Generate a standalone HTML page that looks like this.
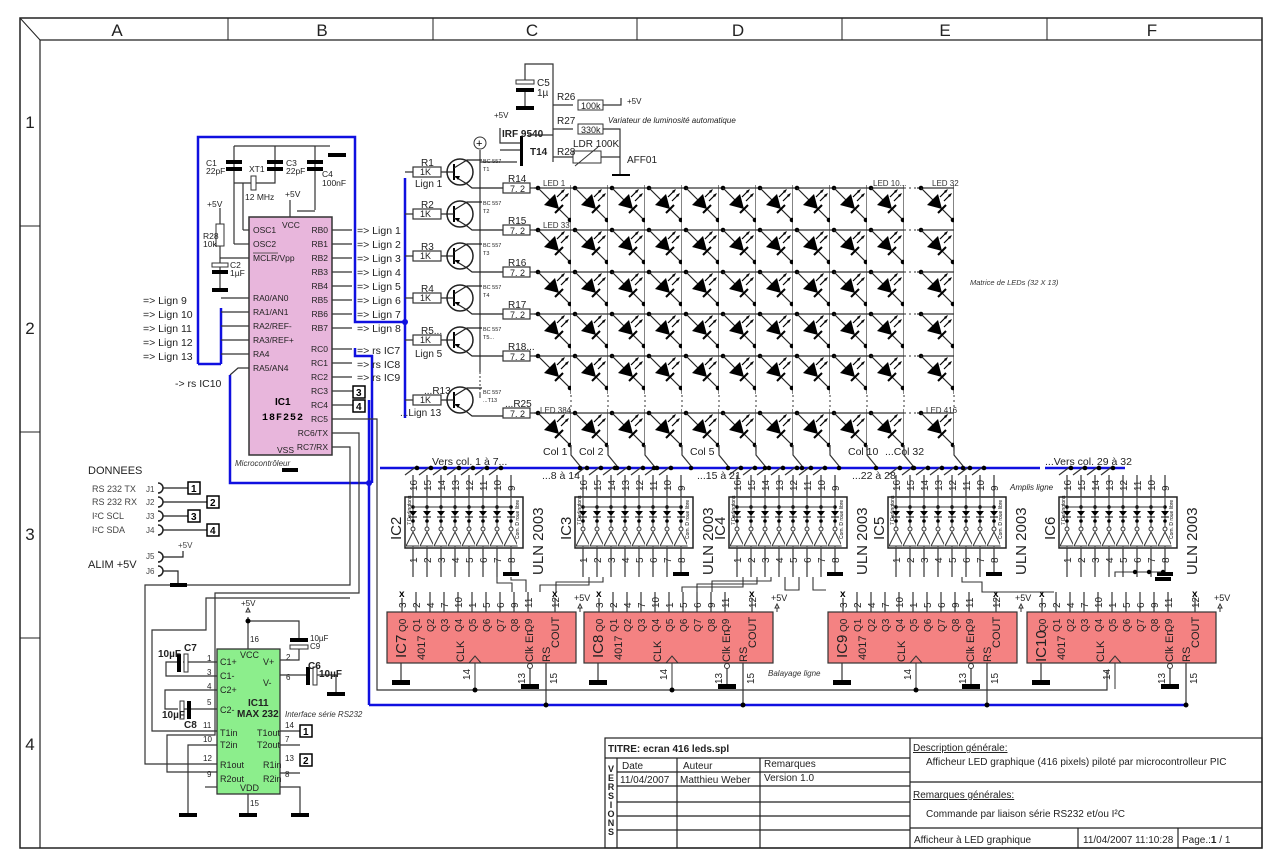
<!DOCTYPE html>
<html><head><meta charset="utf-8"><style>
html,body{margin:0;padding:0;background:#fff;}
svg{display:block;font-family:"Liberation Sans",sans-serif;}
</style></head><body>
<svg width="1280" height="866" viewBox="0 0 1280 866" xmlns="http://www.w3.org/2000/svg">
<defs>
<pattern id="ledA" x="534" y="184" width="37" height="42" patternUnits="userSpaceOnUse">
 <line x1="0" y1="4" x2="37" y2="4" stroke="#333" stroke-width="1.2"/>
 <circle cx="4" cy="4" r="2.3" fill="#000"/>
 <line x1="4" y1="4" x2="37" y2="37" stroke="#222" stroke-width="1.2"/>
 <line x1="37" y1="0" x2="37" y2="42" stroke="#333" stroke-width="1.2"/>
 <circle cx="36" cy="36" r="2.3" fill="#000"/>
 <polygon points="10,21 21,10 25,25" fill="#000"/>
 <line x1="21" y1="29" x2="29" y2="21" stroke="#000" stroke-width="2"/>
 <line x1="23" y1="13" x2="30" y2="6" stroke="#000" stroke-width="1.2"/>
 <line x1="27" y1="17" x2="34" y2="10" stroke="#000" stroke-width="1.2"/>
 <polygon points="31,5 27,7 29,9" fill="#000"/><polygon points="35,9 31,11 33,13" fill="#000"/>
</pattern>
<pattern id="ledB" x="534" y="409" width="37" height="42" patternUnits="userSpaceOnUse">
 <line x1="0" y1="4" x2="37" y2="4" stroke="#333" stroke-width="1.2"/>
 <circle cx="4" cy="4" r="2.3" fill="#000"/>
 <line x1="4" y1="4" x2="37" y2="37" stroke="#222" stroke-width="1.2"/>
 <line x1="37" y1="0" x2="37" y2="42" stroke="#333" stroke-width="1.2"/>
 <circle cx="36" cy="36" r="2.3" fill="#000"/>
 <polygon points="10,21 21,10 25,25" fill="#000"/>
 <line x1="21" y1="29" x2="29" y2="21" stroke="#000" stroke-width="2"/>
 <line x1="23" y1="13" x2="30" y2="6" stroke="#000" stroke-width="1.2"/>
 <line x1="27" y1="17" x2="34" y2="10" stroke="#000" stroke-width="1.2"/>
 <polygon points="31,5 27,7 29,9" fill="#000"/><polygon points="35,9 31,11 33,13" fill="#000"/>
</pattern>
<pattern id="ulnp" x="0" y="0" width="14" height="52" patternUnits="userSpaceOnUse">
 <line x1="8" y1="0" x2="8" y2="52" stroke="#333" stroke-width="1"/>
 <circle cx="8" cy="10" r="1.8" fill="#000"/>
 <polygon points="4,14 12,14 8,19" fill="#000"/><line x1="4" y1="20" x2="12" y2="20" stroke="#000"/>
 <circle cx="8" cy="24" r="1.8" fill="#000"/>
 <circle cx="8" cy="32" r="2" fill="#fff" stroke="#333"/>
 <polygon points="1,49 15,49 8,35" fill="#fff" stroke="#333"/>
</pattern>
<g id="uln">
 <rect x="0" y="0" width="118" height="51" fill="#fff" stroke="#222" stroke-width="1.5"/>
 <rect x="1" y="1" width="112" height="49" fill="url(#ulnp)"/>
 <line x1="8" y1="10" x2="106" y2="10" stroke="#333"/>
 <g stroke="#333" stroke-width="1.2">
  <line x1="8" y1="-22" x2="8" y2="0"/><line x1="22" y1="-22" x2="22" y2="0"/><line x1="36" y1="-22" x2="36" y2="0"/><line x1="50" y1="-22" x2="50" y2="0"/><line x1="64" y1="-22" x2="64" y2="0"/><line x1="78" y1="-22" x2="78" y2="0"/><line x1="92" y1="-22" x2="92" y2="0"/><line x1="106" y1="-22" x2="106" y2="0"/>
  <line x1="8" y1="51" x2="8" y2="80"/><line x1="22" y1="51" x2="22" y2="80"/><line x1="36" y1="51" x2="36" y2="80"/><line x1="50" y1="51" x2="50" y2="80"/><line x1="64" y1="51" x2="64" y2="80"/><line x1="78" y1="51" x2="78" y2="80"/><line x1="92" y1="51" x2="92" y2="80"/><line x1="106" y1="51" x2="106" y2="78"/>
 </g>
 <rect x="98" y="75" width="16" height="4" fill="#000"/>
 <g font-size="10" fill="#222">
  <text transform="translate(12,-6) rotate(-90)">16</text><text transform="translate(26,-6) rotate(-90)">15</text><text transform="translate(40,-6) rotate(-90)">14</text><text transform="translate(54,-6) rotate(-90)">13</text><text transform="translate(68,-6) rotate(-90)">12</text><text transform="translate(82,-6) rotate(-90)">11</text><text transform="translate(96,-6) rotate(-90)">10</text><text transform="translate(110,-6) rotate(-90)">9</text>
  <text transform="translate(12,66) rotate(-90)">1</text><text transform="translate(26,66) rotate(-90)">2</text><text transform="translate(40,66) rotate(-90)">3</text><text transform="translate(54,66) rotate(-90)">4</text><text transform="translate(68,66) rotate(-90)">5</text><text transform="translate(82,66) rotate(-90)">6</text><text transform="translate(96,66) rotate(-90)">7</text><text transform="translate(110,66) rotate(-90)">8</text>
 </g>
 <text transform="translate(6,28) rotate(-90)" font-size="5">7 Darlingtons</text>
 <text transform="translate(114,42) rotate(-90)" font-size="5">Com. D roue libre</text>
 <text transform="translate(138,78) rotate(-90)" font-size="15" fill="#222">ULN 2003</text>
</g>
<g id="c4017">
 <rect x="0" y="0" width="189" height="51" fill="#f48282" stroke="#333" stroke-width="1.2"/>
 <g stroke="#333" stroke-width="1.2">
  <line x1="15" y1="-14" x2="15" y2="0"/><line x1="29" y1="-20" x2="29" y2="0"/><line x1="43" y1="-20" x2="43" y2="0"/><line x1="57" y1="-20" x2="57" y2="0"/><line x1="71" y1="-20" x2="71" y2="0"/><line x1="85" y1="-20" x2="85" y2="0"/><line x1="99" y1="-20" x2="99" y2="0"/><line x1="113" y1="-20" x2="113" y2="0"/><line x1="127" y1="-20" x2="127" y2="0"/><line x1="141" y1="-20" x2="141" y2="0"/><line x1="168" y1="-14" x2="168" y2="0"/>
  <line x1="14" y1="51" x2="14" y2="70"/><line x1="143" y1="55" x2="143" y2="72"/><line x1="159" y1="51" x2="159" y2="92"/>
 </g>
 <rect x="5" y="68" width="18" height="5" fill="#000"/><rect x="134" y="72" width="18" height="5" fill="#000"/>
 <circle cx="143" cy="54" r="2.5" fill="#fff" stroke="#333"/>
 <polyline points="82,51 88,44 94,51" fill="none" stroke="#333"/>
 <line x1="88" y1="51" x2="88" y2="77" stroke="#333"/>
 <path d="M195,-4 l-2,-4 l-2,4 z" fill="none" stroke="#333"/><line x1="193" y1="-4" x2="193" y2="0" stroke="#333"/>
 <text x="187" y="-11" font-size="9" fill="#222">+5V</text>
 <g font-size="10" fill="#222">
  <text transform="translate(19,20) rotate(-90)">Q0</text><text transform="translate(33,20) rotate(-90)">Q1</text><text transform="translate(47,20) rotate(-90)">Q2</text><text transform="translate(61,20) rotate(-90)">Q3</text><text transform="translate(75,20) rotate(-90)">Q4</text><text transform="translate(89,20) rotate(-90)">Q5</text><text transform="translate(103,20) rotate(-90)">Q6</text><text transform="translate(117,20) rotate(-90)">Q7</text><text transform="translate(131,20) rotate(-90)">Q8</text><text transform="translate(145,20) rotate(-90)">Q9</text>
  <text transform="translate(172,36) rotate(-90)" font-size="11">COUT</text>
  <text transform="translate(38,48) rotate(-90)" font-size="11">4017</text>
  <text transform="translate(77,50) rotate(-90)" font-size="11">CLK</text>
  <text transform="translate(146,50) rotate(-90)" font-size="11">Clk En</text>
  <text transform="translate(163,50) rotate(-90)" font-size="11">RS</text>
  <text transform="translate(19,-4) rotate(-90)">3</text><text transform="translate(33,-4) rotate(-90)">2</text><text transform="translate(47,-4) rotate(-90)">4</text><text transform="translate(61,-4) rotate(-90)">7</text><text transform="translate(75,-4) rotate(-90)">10</text><text transform="translate(89,-4) rotate(-90)">1</text><text transform="translate(103,-4) rotate(-90)">5</text><text transform="translate(117,-4) rotate(-90)">6</text><text transform="translate(131,-4) rotate(-90)">9</text><text transform="translate(145,-4) rotate(-90)">11</text><text transform="translate(172,-4) rotate(-90)">12</text>
  <text transform="translate(83,68) rotate(-90)">14</text><text transform="translate(138,72) rotate(-90)">13</text><text transform="translate(170,72) rotate(-90)">15</text>
 </g>
 <text x="12" y="-15" font-size="10" font-weight="bold">x</text><text x="165" y="-15" font-size="10" font-weight="bold">x</text>
</g>
<g id="trans">
 <circle cx="0" cy="0" r="13" fill="#fff" stroke="#222" stroke-width="1.5"/>
 <line x1="-6" y1="-8" x2="-6" y2="8" stroke="#000" stroke-width="2"/>
 <line x1="-18" y1="0" x2="-6" y2="0" stroke="#222" stroke-width="1.2"/>
 <polyline points="-6,-4 7,-12 22,-12" fill="none" stroke="#222" stroke-width="1.2"/>
 <polyline points="-6,4 7,12 12,16 45,16" fill="none" stroke="#222" stroke-width="1.2"/>
 <polygon points="-5,4 0,4 -2,8" fill="#000"/>
</g>
</defs>

<!-- frame -->
<rect x="20" y="18" width="1242" height="830" fill="none" stroke="#222" stroke-width="1.5"/>
<line x1="40" y1="40" x2="1262" y2="40" stroke="#222" stroke-width="1.2"/>
<line x1="40" y1="40" x2="40" y2="848" stroke="#222" stroke-width="1.2"/>
<line x1="20" y1="18" x2="40" y2="40" stroke="#222"/>
<g stroke="#222" stroke-width="1">
 <line x1="228" y1="18" x2="228" y2="40"/><line x1="433" y1="18" x2="433" y2="40"/><line x1="637" y1="18" x2="637" y2="40"/><line x1="842" y1="18" x2="842" y2="40"/><line x1="1047" y1="18" x2="1047" y2="40"/>
 <line x1="20" y1="226" x2="40" y2="226"/><line x1="20" y1="432" x2="40" y2="432"/><line x1="20" y1="638" x2="40" y2="638"/>
</g>
<g font-size="17" fill="#222" text-anchor="middle">
 <text x="117" y="36">A</text><text x="322" y="36">B</text><text x="532" y="36">C</text><text x="738" y="36">D</text><text x="945" y="36">E</text><text x="1152" y="36">F</text>
 <text x="30" y="128">1</text><text x="30" y="334">2</text><text x="30" y="540">3</text><text x="30" y="750">4</text>
</g>

<!-- blue wires -->
<g stroke="#1010e0" stroke-width="2.5" fill="none">
 <polyline points="198,364 198,137 355,137 355,322 405,322"/>
 <line x1="405" y1="178" x2="405" y2="418"/>
 <line x1="221" y1="308" x2="221" y2="364"/>
 <line x1="198" y1="364" x2="221" y2="364"/>
 <polyline points="230,375 230,483 369,483"/>
 <polyline points="355,348 355,356 372,356 372,483"/>
 <line x1="369" y1="400" x2="369" y2="705"/>
 <line x1="369" y1="705" x2="1185" y2="705"/>
 <line x1="380" y1="468" x2="1040" y2="468"/>
 <line x1="1045" y1="468" x2="1125" y2="468"/>
</g>
<g fill="#1010e0"><circle cx="369" cy="483" r="3"/><circle cx="405" cy="322" r="3"/></g>

<!-- IC1 area -->
<g stroke="#333" stroke-width="1.2" fill="none">
 <polyline points="234,146 315,146"/><line x1="275" y1="146" x2="275" y2="170"/>
 <line x1="315" y1="146" x2="315" y2="210"/><line x1="315" y1="146" x2="330" y2="146"/>
 <line x1="234" y1="146" x2="234" y2="244"/>
 <polyline points="234,183 275,183 275,163"/>
 <polyline points="243,230 243,183"/><line x1="243" y1="230" x2="249" y2="230"/>
 <polyline points="234,244 249,244"/>
 <polyline points="297,211 315,211"/><line x1="290" y1="200" x2="290" y2="217"/>
 <line x1="220" y1="208" x2="220" y2="288"/><line x1="220" y1="258" x2="249" y2="258"/>
</g>
<g fill="#000">
 <rect x="226" y="160" width="16" height="4"/><rect x="226" y="167" width="16" height="4"/>
 <rect x="267" y="160" width="16" height="4"/><rect x="267" y="167" width="16" height="4"/>
 <rect x="307" y="160" width="16" height="4"/><rect x="307" y="167" width="16" height="4"/>
 <rect x="328" y="153" width="18" height="4"/>
 <rect x="212" y="270" width="16" height="4"/><rect x="212" y="288" width="16" height="4"/>
</g>
<rect x="251" y="176" width="5" height="14" fill="#fff" stroke="#333"/>
<rect x="216" y="224" width="8" height="22" fill="#fff" stroke="#333"/>
<rect x="212" y="263" width="16" height="4" fill="#fff" stroke="#333"/>
<g font-size="8.5" fill="#222">
 <text x="206" y="166">C1</text><text x="206" y="174">22pF</text>
 <text x="249" y="172">XT1</text><text x="245" y="200">12 MHz</text>
 <text x="286" y="166">C3</text><text x="286" y="174">22pF</text>
 <text x="322" y="177">C4</text><text x="322" y="186">100nF</text>
 <text x="285" y="197">+5V</text><text x="207" y="207">+5V</text>
 <text x="203" y="239">R28</text><text x="203" y="247">10k</text>
 <text x="230" y="268">C2</text><text x="230" y="276">1µF</text>
</g>
<rect x="249" y="217" width="83" height="238" fill="#e8b6dc" stroke="#333" stroke-width="1.5"/>
<g font-size="8.5" fill="#222">
 <text x="253" y="233">OSC1</text><text x="253" y="247">OSC2</text><text x="253" y="261">MCLR/Vpp</text>
 <text x="282" y="228">VCC</text>
 <text x="253" y="301">RA0/AN0</text><text x="253" y="315">RA1/AN1</text><text x="253" y="329">RA2/REF-</text><text x="253" y="343">RA3/REF+</text><text x="253" y="357">RA4</text><text x="253" y="371">RA5/AN4</text>
 <g text-anchor="end"><text x="328" y="233">RB0</text><text x="328" y="247">RB1</text><text x="328" y="261">RB2</text><text x="328" y="275">RB3</text><text x="328" y="289">RB4</text><text x="328" y="303">RB5</text><text x="328" y="317">RB6</text><text x="328" y="331">RB7</text>
 <text x="328" y="352">RC0</text><text x="328" y="366">RC1</text><text x="328" y="380">RC2</text><text x="328" y="394">RC3</text><text x="328" y="408">RC4</text><text x="328" y="422">RC5</text><text x="328" y="436">RC6/TX</text><text x="328" y="450">RC7/RX</text></g>
 <text x="277" y="453">VSS</text>
</g>
<line x1="253" y1="253" x2="278" y2="253" stroke="#333" stroke-width="0.8"/>
<text x="275" y="405" font-size="10" font-weight="bold">IC1</text>
<text x="262" y="420" font-size="10" font-weight="bold" font-family="Liberation Mono,monospace" letter-spacing="1">18F252</text>
<text x="235" y="466" font-size="8" font-style="italic" fill="#333">Microcontrôleur</text>
<rect x="282" y="468" width="16" height="4" fill="#000"/>
<g stroke="#333" stroke-width="1.2">
 <line x1="332" y1="230" x2="352" y2="230"/><line x1="332" y1="244" x2="352" y2="244"/><line x1="332" y1="258" x2="352" y2="258"/><line x1="332" y1="272" x2="352" y2="272"/><line x1="332" y1="286" x2="352" y2="286"/><line x1="332" y1="300" x2="352" y2="300"/><line x1="332" y1="314" x2="352" y2="314"/><line x1="332" y1="328" x2="352" y2="328"/>
 <line x1="332" y1="349" x2="352" y2="349"/><line x1="332" y1="363" x2="352" y2="363"/><line x1="332" y1="377" x2="352" y2="377"/>
 <line x1="332" y1="391" x2="353" y2="391"/><line x1="332" y1="405" x2="353" y2="405"/>
 <polyline points="332,419 377,419 377,690 1107,690 1107,670" fill="none"/>
 <polyline points="332,433 359,433 359,593 215,593 215,735 167,735 167,772 227,772" fill="none"/>
 <polyline points="332,447 350,447 350,585 145,585 145,764 218,764" fill="none"/>
 <line x1="221" y1="298" x2="249" y2="298"/><line x1="221" y1="312" x2="249" y2="312"/><line x1="221" y1="326" x2="249" y2="326"/><line x1="221" y1="340" x2="249" y2="340"/><line x1="221" y1="354" x2="249" y2="354"/>
 <polyline points="230,375 238,368 249,368" fill="none"/>
</g>
<rect x="353" y="386" width="12" height="12" fill="#fff" stroke="#000" stroke-width="1.5"/><text x="356" y="396" font-size="10" font-weight="bold">3</text>
<rect x="353" y="400" width="12" height="12" fill="#fff" stroke="#000" stroke-width="1.5"/><text x="356" y="410" font-size="10" font-weight="bold">4</text>
<g font-size="10.5" fill="#222">
 <text x="357" y="234">=&gt; Lign 1</text><text x="357" y="248">=&gt; Lign 2</text><text x="357" y="262">=&gt; Lign 3</text><text x="357" y="276">=&gt; Lign 4</text><text x="357" y="290">=&gt; Lign 5</text><text x="357" y="304">=&gt; Lign 6</text><text x="357" y="318">=&gt; Lign 7</text><text x="357" y="332">=&gt; Lign 8</text>
 <text x="357" y="354">=&gt; rs IC7</text><text x="357" y="368">=&gt; rs IC8</text><text x="357" y="381">=&gt; rs IC9</text>
 <text x="143" y="304">=&gt; Lign 9</text><text x="143" y="318">=&gt; Lign 10</text><text x="143" y="332">=&gt; Lign 11</text><text x="143" y="346">=&gt; Lign 12</text><text x="143" y="360">=&gt; Lign 13</text>
 <text x="175" y="387">-&gt; rs IC10</text>
</g>

<!-- top C area -->
<g stroke="#333" stroke-width="1.2" fill="none">
 <polyline points="525,80 525,64 553,64 553,162"/>
 <line x1="525" y1="90" x2="525" y2="106"/>
 <polyline points="553,105 573,105"/><polyline points="600,105 621,105 621,98"/>
 <polyline points="553,129 573,129"/><polyline points="600,129 620,129 620,175"/>
 <polyline points="553,157 573,157"/><polyline points="601,157 620,157"/>
 <polyline points="553,135 528,135"/>
 <polyline points="500,128 500,143 520,143"/><polyline points="500,150 520,150"/>
 <polyline points="480,162 517,162"/>
 <line x1="480" y1="150" x2="480" y2="372"/>
</g>
<line x1="480" y1="372" x2="480" y2="394" stroke="#333" stroke-dasharray="2,2"/>
<line x1="480" y1="394" x2="480" y2="398" stroke="#333"/>
<rect x="516" y="80" width="18" height="4" fill="#fff" stroke="#333"/><rect x="516" y="88" width="18" height="4" fill="#000"/>
<rect x="516" y="106" width="18" height="4" fill="#000"/>
<rect x="612" y="174" width="18" height="4" fill="#000"/>
<rect x="520" y="136" width="3" height="30" fill="#000"/>
<rect x="578" y="100" width="25" height="10" fill="#fff" stroke="#333"/>
<rect x="578" y="124" width="25" height="10" fill="#fff" stroke="#333"/>
<rect x="573" y="151" width="28" height="12" fill="#fff" stroke="#333"/>
<line x1="575" y1="166" x2="598" y2="147" stroke="#333"/>
<circle cx="480" cy="143" r="6" fill="#fff" stroke="#333"/><text x="476" y="147" font-size="11">+</text>
<g font-size="9" fill="#222">
 <text x="537" y="86" font-size="10">C5</text><text x="537" y="96" font-size="10">1µ</text>
 <text x="557" y="100" font-size="10">R26</text><text x="581" y="109" font-size="9">100k</text>
 <text x="557" y="124" font-size="10">R27</text><text x="581" y="133" font-size="9">330k</text>
 <text x="557" y="155" font-size="10">R28</text><text x="573" y="147" font-size="10">LDR 100K</text>
 <text x="627" y="104" font-size="8">+5V</text>
 <text x="494" y="118" font-size="8">+5V</text>
 <text x="502" y="137" font-size="10" font-weight="bold">IRF 9540</text>
 <text x="530" y="155" font-size="10" font-weight="bold">T14</text>
 <text x="627" y="163" font-size="10">AFF01</text>
 <text x="608" y="123" font-size="8" font-style="italic">Variateur de luminosité automatique</text>
</g>

<!-- transistors & resistors -->
<use href="#trans" x="460" y="172"/><use href="#trans" x="460" y="214"/><use href="#trans" x="460" y="256"/><use href="#trans" x="460" y="298"/><use href="#trans" x="460" y="340"/><use href="#trans" x="460" y="400"/>
<g stroke="#333" stroke-width="1.2">
 <line x1="405" y1="172" x2="442" y2="172"/><line x1="405" y1="214" x2="442" y2="214"/><line x1="405" y1="256" x2="442" y2="256"/><line x1="405" y1="298" x2="442" y2="298"/><line x1="405" y1="340" x2="442" y2="340"/><line x1="405" y1="400" x2="442" y2="400"/>
 <line x1="530" y1="188" x2="538" y2="188"/><line x1="530" y1="230" x2="538" y2="230"/><line x1="530" y1="272" x2="538" y2="272"/><line x1="530" y1="314" x2="538" y2="314"/><line x1="530" y1="356" x2="538" y2="356"/><line x1="530" y1="413" x2="538" y2="413"/>
</g>
<g fill="#fff" stroke="#333" stroke-width="1.2">
 <rect x="413" y="167" width="28" height="10"/><rect x="413" y="209" width="28" height="10"/><rect x="413" y="251" width="28" height="10"/><rect x="413" y="293" width="28" height="10"/><rect x="413" y="335" width="28" height="10"/><rect x="413" y="395" width="28" height="10"/>
 <rect x="503" y="183" width="27" height="10"/><rect x="503" y="225" width="27" height="10"/><rect x="503" y="267" width="27" height="10"/><rect x="503" y="309" width="27" height="10"/><rect x="503" y="351" width="27" height="10"/><rect x="503" y="408" width="27" height="10"/>
</g>
<g font-size="9" fill="#222">
 <text x="420" y="175">1K</text><text x="420" y="217">1K</text><text x="420" y="259">1K</text><text x="420" y="301">1K</text><text x="420" y="343">1K</text><text x="420" y="403">1K</text>
 <text x="510" y="192">7. 2</text><text x="510" y="234">7. 2</text><text x="510" y="276">7. 2</text><text x="510" y="318">7. 2</text><text x="510" y="360">7. 2</text><text x="510" y="417">7. 2</text>
 <g font-size="10"><text x="421" y="166">R1</text><text x="421" y="208">R2</text><text x="421" y="250">R3</text><text x="421" y="292">R4</text><text x="421" y="334">R5...</text><text x="424" y="394">...R13</text>
 <text x="415" y="187">Lign 1</text><text x="415" y="357">Lign 5</text><text x="400" y="416">...Lign 13</text>
 <text x="508" y="182">R14</text><text x="508" y="224">R15</text><text x="508" y="266">R16</text><text x="508" y="308">R17</text><text x="508" y="350">R18...</text><text x="505" y="407">...R25</text></g>
 <g font-size="5.5"><text x="483" y="163">BC 557</text><text x="483" y="171">T1</text><text x="483" y="205">BC 557</text><text x="483" y="213">T2</text><text x="483" y="247">BC 557</text><text x="483" y="255">T3</text><text x="483" y="289">BC 557</text><text x="483" y="297">T4</text><text x="483" y="331">BC 557</text><text x="483" y="339">T5...</text><text x="483" y="394">BC 557</text><text x="483" y="402">...T13</text></g>
</g>

<!-- LED matrix -->
<rect x="534" y="184" width="370" height="210" fill="url(#ledA)"/>
<rect x="534" y="409" width="370" height="42" fill="url(#ledB)"/>
<g transform="translate(383,0)"><rect x="534" y="184" width="37" height="210" fill="url(#ledA)"/><rect x="534" y="409" width="37" height="42" fill="url(#ledB)"/></g>
<g stroke="#333" stroke-dasharray="2,3"><line x1="904" y1="188" x2="917" y2="188"/><line x1="904" y1="230" x2="917" y2="230"/><line x1="904" y1="272" x2="917" y2="272"/><line x1="904" y1="314" x2="917" y2="314"/><line x1="904" y1="356" x2="917" y2="356"/><line x1="904" y1="413" x2="917" y2="413"/></g>
<rect x="534" y="395" width="440" height="14" fill="#fff"/>
<g stroke="#333" stroke-dasharray="2,3"><line x1="571" y1="395" x2="571" y2="409"/><line x1="608" y1="395" x2="608" y2="409"/><line x1="645" y1="395" x2="645" y2="409"/><line x1="682" y1="395" x2="682" y2="409"/><line x1="719" y1="395" x2="719" y2="409"/><line x1="756" y1="395" x2="756" y2="409"/><line x1="793" y1="395" x2="793" y2="409"/><line x1="830" y1="395" x2="830" y2="409"/><line x1="867" y1="395" x2="867" y2="409"/><line x1="904" y1="395" x2="904" y2="409"/><line x1="954" y1="395" x2="954" y2="409"/></g>
<rect x="534" y="176" width="440" height="9" fill="#fff"/>
<g stroke="#333" stroke-width="1.2">
 <polyline points="571,445 571,455 580,466" fill="none"/><polyline points="608,445 608,455 617,466" fill="none"/><polyline points="645,445 645,455 654,466" fill="none"/><polyline points="682,445 682,455 691,466" fill="none"/><polyline points="719,445 719,455 728,466" fill="none"/><polyline points="756,445 756,455 765,466" fill="none"/><polyline points="793,445 793,455 802,466" fill="none"/><polyline points="830,445 830,455 839,466" fill="none"/><polyline points="867,445 867,455 876,466" fill="none"/><polyline points="904,445 904,455 913,466" fill="none"/><polyline points="954,445 954,455 963,466" fill="none"/>
</g>
<g font-size="8" fill="#333">
 <text x="543" y="186">LED 1</text><text x="543" y="228">LED 33</text><text x="873" y="186">LED 10...</text><text x="932" y="186">LED 32</text>
 <text x="540" y="413">LED 384</text><text x="926" y="413">LED 416</text>
 <text x="970" y="285" font-style="italic" font-size="7.5">Matrice de LEDs (32 X 13)</text>
</g>
<g font-size="10.5" fill="#222">
 <text x="543" y="455">Col 1</text><text x="579" y="455">Col 2</text><text x="690" y="455">Col 5</text><text x="848" y="455">Col 10</text><text x="885" y="455">...Col 32</text>
 <text x="432" y="465">Vers col. 1 à 7...</text><text x="542" y="479">...8 à 14</text><text x="697" y="479">...15 à 21</text><text x="852" y="479">...22 à 28</text><text x="1045" y="465">...Vers col. 29 à 32</text>
 <text x="1010" y="490" font-size="8" font-style="italic">Amplis ligne</text>
</g>
<g stroke="#333" stroke-width="1.2">
 <line x1="405" y1="475" x2="417" y2="466"/><line x1="419" y1="475" x2="431" y2="466"/><line x1="433" y1="475" x2="445" y2="466"/><line x1="447" y1="475" x2="459" y2="466"/><line x1="461" y1="475" x2="473" y2="466"/><line x1="475" y1="475" x2="487" y2="466"/><line x1="489" y1="475" x2="501" y2="466"/>
 <line x1="575" y1="475" x2="587" y2="466"/><line x1="589" y1="475" x2="601" y2="466"/><line x1="603" y1="475" x2="615" y2="466"/><line x1="617" y1="475" x2="629" y2="466"/><line x1="631" y1="475" x2="643" y2="466"/><line x1="645" y1="475" x2="657" y2="466"/><line x1="659" y1="475" x2="671" y2="466"/>
 <line x1="729" y1="475" x2="741" y2="466"/><line x1="743" y1="475" x2="755" y2="466"/><line x1="757" y1="475" x2="769" y2="466"/><line x1="771" y1="475" x2="783" y2="466"/><line x1="785" y1="475" x2="797" y2="466"/><line x1="799" y1="475" x2="811" y2="466"/><line x1="813" y1="475" x2="825" y2="466"/>
 <line x1="888" y1="475" x2="900" y2="466"/><line x1="902" y1="475" x2="914" y2="466"/><line x1="916" y1="475" x2="928" y2="466"/><line x1="930" y1="475" x2="942" y2="466"/><line x1="944" y1="475" x2="956" y2="466"/><line x1="958" y1="475" x2="970" y2="466"/><line x1="972" y1="475" x2="984" y2="466"/>
 <line x1="1059" y1="475" x2="1071" y2="466"/><line x1="1073" y1="475" x2="1085" y2="466"/><line x1="1087" y1="475" x2="1099" y2="466"/><line x1="1101" y1="475" x2="1113" y2="466"/>
</g>
<g fill="#000">
 <circle cx="417" cy="468" r="2.3"/><circle cx="431" cy="468" r="2.3"/><circle cx="445" cy="468" r="2.3"/><circle cx="459" cy="468" r="2.3"/><circle cx="473" cy="468" r="2.3"/><circle cx="487" cy="468" r="2.3"/><circle cx="501" cy="468" r="2.3"/>
 <circle cx="587" cy="468" r="2.3"/><circle cx="601" cy="468" r="2.3"/><circle cx="615" cy="468" r="2.3"/><circle cx="629" cy="468" r="2.3"/><circle cx="643" cy="468" r="2.3"/><circle cx="657" cy="468" r="2.3"/><circle cx="671" cy="468" r="2.3"/>
 <circle cx="741" cy="468" r="2.3"/><circle cx="755" cy="468" r="2.3"/><circle cx="769" cy="468" r="2.3"/><circle cx="783" cy="468" r="2.3"/><circle cx="797" cy="468" r="2.3"/><circle cx="811" cy="468" r="2.3"/><circle cx="825" cy="468" r="2.3"/>
 <circle cx="900" cy="468" r="2.3"/><circle cx="914" cy="468" r="2.3"/><circle cx="928" cy="468" r="2.3"/><circle cx="942" cy="468" r="2.3"/><circle cx="956" cy="468" r="2.3"/><circle cx="970" cy="468" r="2.3"/><circle cx="984" cy="468" r="2.3"/>
 <circle cx="1071" cy="468" r="2.3"/><circle cx="1085" cy="468" r="2.3"/><circle cx="1099" cy="468" r="2.3"/><circle cx="1113" cy="468" r="2.3"/>
 <circle cx="580" cy="468" r="2.3"/><circle cx="617" cy="468" r="2.3"/><circle cx="654" cy="468" r="2.3"/><circle cx="691" cy="468" r="2.3"/><circle cx="728" cy="468" r="2.3"/><circle cx="765" cy="468" r="2.3"/><circle cx="802" cy="468" r="2.3"/><circle cx="839" cy="468" r="2.3"/><circle cx="876" cy="468" r="2.3"/><circle cx="913" cy="468" r="2.3"/><circle cx="963" cy="468" r="2.3"/>
</g>

<!-- ULN ICs -->
<use href="#uln" x="405" y="497"/><use href="#uln" x="575" y="497"/><use href="#uln" x="729" y="497"/><use href="#uln" x="888" y="497"/><use href="#uln" x="1059" y="497"/>
<g font-size="15" fill="#222">
 <text transform="translate(401,540) rotate(-90)">IC2</text><text transform="translate(571,540) rotate(-90)">IC3</text><text transform="translate(725,540) rotate(-90)">IC4</text><text transform="translate(884,540) rotate(-90)">IC5</text><text transform="translate(1055,540) rotate(-90)">IC6</text>
</g>

<!-- 4017 ICs -->
<use href="#c4017" x="387" y="612"/><use href="#c4017" x="584" y="612"/><use href="#c4017" x="828" y="612"/><use href="#c4017" x="1027" y="612"/>
<g font-size="15" fill="#222">
 <text transform="translate(406,658) rotate(-90)">IC7</text><text transform="translate(603,658) rotate(-90)">IC8</text><text transform="translate(847,658) rotate(-90)">IC9</text><text transform="translate(1046,662) rotate(-90)">IC10</text>
</g>
<text x="768" y="676" font-size="8" font-style="italic" fill="#333">Balayage ligne</text>
<g stroke="#333" stroke-width="1.1" fill="none">
 <polyline points="497,577 497,583 512,583 512,592"/><polyline points="511,577 511,580 526,580 526,592"/>
 <polyline points="589,577 589,585 540,585 540,592"/><polyline points="603,577 603,582 556,582 556,592"/>
 <polyline points="743,577 743,587 682,587 682,592"/><polyline points="757,577 757,584 697,584 697,592"/><polyline points="771,577 771,581 712,581 712,592"/>
 <polyline points="785,577 785,590 799,590 799,577"/><polyline points="813,577 813,590 826,590"/>
 <polyline points="962,577 962,582 982,582 982,592 1054,592"/>
 <polyline points="1115,577 1115,572 1164,572"/>
 <line x1="400" y1="690" x2="1107" y2="690"/>
</g>
<g fill="#000"><circle cx="475" cy="690" r="2.5"/><circle cx="672" cy="690" r="2.5"/><circle cx="916" cy="690" r="2.5"/><circle cx="546" cy="705" r="2.5"/><circle cx="743" cy="705" r="2.5"/><circle cx="987" cy="705" r="2.5"/><circle cx="1186" cy="705" r="2.5"/>
<circle cx="1135" cy="572" r="2.2"/><circle cx="1149" cy="572" r="2.2"/><circle cx="1163" cy="572" r="2.2"/><rect x="1155" y="577" width="16" height="4"/></g>

<!-- Connectors -->
<g font-size="9" fill="#444">
 <text x="88" y="474" font-size="11" fill="#222">DONNEES</text>
 <text x="92" y="492">RS 232 TX</text><text x="92" y="505">RS 232 RX</text><text x="92" y="519">I²C SCL</text><text x="92" y="533">I²C SDA</text>
 <text x="146" y="492" font-size="8">J1</text><text x="146" y="505" font-size="8">J2</text><text x="146" y="519" font-size="8">J3</text><text x="146" y="533" font-size="8">J4</text>
 <text x="146" y="559" font-size="8">J5</text><text x="146" y="574" font-size="8">J6</text>
 <text x="88" y="568" font-size="11" fill="#222">ALIM +5V</text>
 <text x="178" y="548" font-size="8">+5V</text>
</g>
<g stroke="#222" stroke-width="1.5" fill="none">
 <path d="M158,483 a5,5 0 0 1 0,10"/><path d="M158,497 a5,5 0 0 1 0,10"/><path d="M158,511 a5,5 0 0 1 0,10"/><path d="M158,525 a5,5 0 0 1 0,10"/><path d="M158,552 a5,5 0 0 1 0,10"/><path d="M158,566 a5,5 0 0 1 0,10"/>
</g>
<g stroke="#222" stroke-width="1.2" fill="none">
 <line x1="163" y1="488" x2="188" y2="488"/><line x1="163" y1="502" x2="207" y2="502"/><line x1="163" y1="516" x2="188" y2="516"/><line x1="163" y1="530" x2="207" y2="530"/>
 <polyline points="163,557 183,557 183,551"/><polyline points="163,571 178,571 178,583"/>
</g>
<rect x="170" y="583" width="17" height="4" fill="#000"/>
<g font-size="10" font-weight="bold">
 <rect x="188" y="482" width="12" height="12" fill="#fff" stroke="#000" stroke-width="1.5"/><text x="191" y="492">1</text>
 <rect x="207" y="496" width="12" height="12" fill="#fff" stroke="#000" stroke-width="1.5"/><text x="210" y="506">2</text>
 <rect x="188" y="510" width="12" height="12" fill="#fff" stroke="#000" stroke-width="1.5"/><text x="191" y="520">3</text>
 <rect x="207" y="524" width="12" height="12" fill="#fff" stroke="#000" stroke-width="1.5"/><text x="210" y="534">4</text>
</g>

<!-- MAX232 -->
<g stroke="#333" stroke-width="1.2" fill="none">
 <line x1="248" y1="617" x2="248" y2="649"/><polyline points="248,621 299,621 299,638"/><polyline points="299,645 299,660 280,660"/>
 <polyline points="280,675 306,675"/><polyline points="315,675 336,675 336,692"/>
 <polyline points="217,662 183,662"/><polyline points="177,662 166,662 166,676 217,676"/>
 <polyline points="217,690 165,690 165,709 178,709"/><polyline points="184,709 217,709"/>
 <polyline points="217,731 152,731 152,630 206,630 206,598 350,598"/>
 <polyline points="217,745 188,745 188,813"/><polyline points="280,745 300,745"/><polyline points="280,731 300,731"/>
 <polyline points="280,773 300,773"/><polyline points="205,787 217,787"/><polyline points="280,787 300,787 300,813"/>
 <line x1="248" y1="794" x2="248" y2="813"/>
</g>
<circle cx="248" cy="621" r="2.5" fill="#000"/>
<path d="M250,612 l-2,-4 l-2,4 z" fill="none" stroke="#333"/>
<rect x="290" y="638" width="18" height="4" fill="#000"/><rect x="290" y="645" width="18" height="4" fill="#fff" stroke="#333"/>
<rect x="306" y="667" width="4" height="18" fill="#000"/><rect x="313" y="667" width="4" height="18" fill="#fff" stroke="#333"/>
<rect x="177" y="654" width="4" height="18" fill="#000"/><rect x="184" y="654" width="4" height="18" fill="#fff" stroke="#333"/>
<rect x="180" y="701" width="4" height="18" fill="#fff" stroke="#333"/><rect x="187" y="701" width="4" height="18" fill="#000"/>
<g fill="#000"><rect x="327" y="692" width="18" height="4"/><rect x="179" y="813" width="18" height="4"/><rect x="239" y="813" width="18" height="4"/><rect x="291" y="813" width="18" height="4"/></g>
<rect x="217" y="649" width="63" height="145" fill="#8cee8c" stroke="#333" stroke-width="1.3"/>
<g font-size="9" fill="#222">
 <text x="240" y="658">VCC</text><text x="220" y="665">C1+</text><text x="220" y="679">C1-</text><text x="220" y="693">C2+</text><text x="220" y="713">C2-</text>
 <text x="263" y="665">V+</text><text x="263" y="686">V-</text>
 <text x="220" y="736">T1in</text><text x="220" y="748">T2in</text><text x="220" y="768">R1out</text><text x="220" y="782">R2out</text>
 <text x="257" y="736">T1out</text><text x="257" y="748">T2out</text><text x="263" y="768">R1in</text><text x="263" y="782">R2in</text>
 <text x="240" y="791">VDD</text>
 <text x="248" y="706" font-size="10" font-weight="bold">IC11</text><text x="237" y="717" font-size="10" font-weight="bold">MAX 232</text>
 <text x="285" y="717" font-size="8" font-style="italic" fill="#333">Interface série RS232</text>
 <text x="241" y="606" font-size="8">+5V</text>
 <g font-size="8"><text x="250" y="642">16</text><text x="207" y="661">1</text><text x="207" y="675">3</text><text x="207" y="689">4</text><text x="207" y="705">5</text><text x="203" y="728">11</text><text x="203" y="742">10</text><text x="203" y="761">12</text><text x="207" y="777">9</text><text x="286" y="660">2</text><text x="286" y="680">6</text><text x="285" y="728">14</text><text x="285" y="742">7</text><text x="285" y="761">13</text><text x="285" y="777">8</text><text x="250" y="806">15</text></g>
 <text x="310" y="641" font-size="8">10µF</text><text x="310" y="649" font-size="8">C9</text>
 <text x="308" y="669" font-size="10" font-weight="bold">C6</text><text x="319" y="677" font-size="10" font-weight="bold">10µF</text>
 <text x="184" y="651" font-size="10" font-weight="bold">C7</text><text x="158" y="657" font-size="10" font-weight="bold">10µF</text>
 <text x="162" y="718" font-size="10" font-weight="bold">10µF</text><text x="184" y="728" font-size="10" font-weight="bold">C8</text>
</g>
<g font-size="10" font-weight="bold">
 <rect x="300" y="725" width="12" height="12" fill="#fff" stroke="#000" stroke-width="1.5"/><text x="303" y="735">1</text>
 <rect x="300" y="754" width="12" height="12" fill="#fff" stroke="#000" stroke-width="1.5"/><text x="303" y="764">2</text>
</g>

<!-- Title block -->
<g stroke="#222" stroke-width="1.2" fill="none">
 <rect x="605" y="738" width="657" height="110"/>
 <line x1="910" y1="738" x2="910" y2="848"/>
 <line x1="605" y1="758" x2="910" y2="758"/>
 <line x1="617" y1="758" x2="617" y2="848"/>
 <line x1="617" y1="772" x2="910" y2="772"/><line x1="617" y1="786" x2="910" y2="786"/><line x1="617" y1="802" x2="910" y2="802"/><line x1="617" y1="816" x2="910" y2="816"/><line x1="617" y1="830" x2="910" y2="830"/>
 <line x1="677" y1="758" x2="677" y2="848"/><line x1="760" y1="758" x2="760" y2="848"/>
 <line x1="910" y1="782" x2="1262" y2="782"/><line x1="910" y1="828" x2="1262" y2="828"/>
 <line x1="1078" y1="828" x2="1078" y2="848"/><line x1="1178" y1="828" x2="1178" y2="848"/>
</g>
<g font-size="10" fill="#222">
 <text x="608" y="752" font-weight="bold">TITRE: ecran 416 leds.spl</text>
 <text x="622" y="769">Date</text><text x="683" y="769">Auteur</text><text x="764" y="767">Remarques</text>
 <text x="620" y="783">11/04/2007</text><text x="680" y="783">Matthieu Weber</text><text x="764" y="781">Version 1.0</text>
 <g font-size="9" font-weight="bold" text-anchor="middle"><text x="611" y="772">V</text><text x="611" y="781">E</text><text x="611" y="790">R</text><text x="611" y="799">S</text><text x="611" y="808">I</text><text x="611" y="817">O</text><text x="611" y="826">N</text><text x="611" y="835">S</text></g>
 <text x="913" y="751" text-decoration="underline">Description générale:</text>
 <text x="926" y="765">Afficheur LED graphique (416 pixels) piloté par microcontrolleur PIC</text>
 <text x="913" y="798" text-decoration="underline">Remarques générales:</text>
 <text x="926" y="817">Commande par liaison série RS232 et/ou I²C</text>
 <text x="914" y="843">Afficheur à LED graphique</text>
 <text x="1083" y="843">11/04/2007  11:10:28</text>
 <text x="1182" y="843">Page.:<tspan font-weight="bold">1</tspan> / 1</text>
</g>
</svg>
</body></html>
